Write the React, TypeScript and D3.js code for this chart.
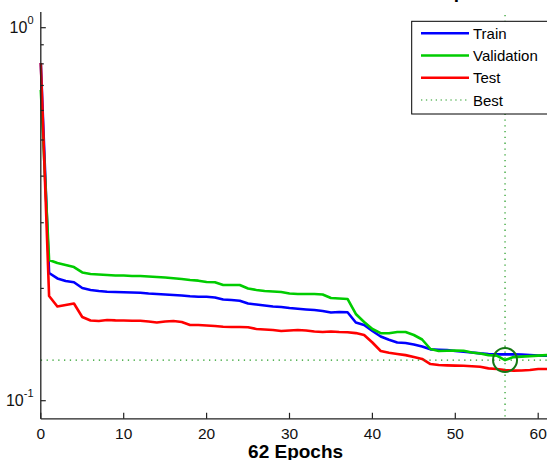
import React from 'react';
import * as d3 from 'd3';

// performance (mse) per epoch
const epochs = d3.range(0, 63);
const train = [0.804, 0.2200, 0.2127, 0.2094, 0.2077, 0.2005, 0.1981, 0.1968, 0.1959, 0.1956,
  0.1953, 0.1950, 0.1948, 0.1938, 0.1932, 0.1926, 0.1920, 0.1914, 0.1905, 0.1900,
  0.1900, 0.1891, 0.1868, 0.1862, 0.1854, 0.1822, 0.1811, 0.1800, 0.1788, 0.1783,
  0.1772, 0.1764, 0.1756, 0.1750, 0.1739, 0.1723, 0.1729, 0.1726, 0.1621, 0.1596,
  0.1538, 0.1486, 0.1457, 0.1432, 0.1428, 0.1415, 0.1397, 0.1373, 0.1370, 0.1368,
  0.1359, 0.1353, 0.1346, 0.1339, 0.1334, 0.1331, 0.1331, 0.1331, 0.1330, 0.1325,
  0.1321, 0.1321, 0.1321];
const validation = [0.681, 0.2384, 0.2339, 0.2311, 0.2282, 0.2207, 0.2186, 0.2180, 0.2173, 0.2167,
  0.2167, 0.2160, 0.2160, 0.2153, 0.2146, 0.2140, 0.2130, 0.2120, 0.2107, 0.2098,
  0.2081, 0.2077, 0.2043, 0.2043, 0.2043, 0.1999, 0.1981, 0.1968, 0.1962, 0.1956,
  0.1938, 0.1932, 0.1932, 0.1932, 0.1926, 0.1885, 0.1879, 0.1874, 0.1708, 0.1626,
  0.1557, 0.1518, 0.1516, 0.1528, 0.1528, 0.1500, 0.1459, 0.1376, 0.1359, 0.1361,
  0.1363, 0.1361, 0.1346, 0.1338, 0.1325, 0.1321, 0.1285, 0.1309, 0.1313, 0.1317,
  0.1321, 0.1325, 0.1325];
const test = [0.804, 0.1909, 0.1788, 0.1805, 0.1822, 0.1677, 0.1641, 0.1636, 0.1646, 0.1642,
  0.1641, 0.1638, 0.1638, 0.1630, 0.1621, 0.1630, 0.1636, 0.1626, 0.1596, 0.1596,
  0.1591, 0.1586, 0.1579, 0.1576, 0.1576, 0.1573, 0.1557, 0.1552, 0.1547, 0.1538,
  0.1543, 0.1547, 0.1543, 0.1533, 0.1528, 0.1533, 0.1528, 0.1526, 0.1518, 0.1500,
  0.1432, 0.1359, 0.1344, 0.1334, 0.1325, 0.1309, 0.1294, 0.1254, 0.1246, 0.1244,
  0.1242, 0.1241, 0.1237, 0.1233, 0.1221, 0.1216, 0.1209, 0.1204, 0.1205, 0.1209,
  0.1216, 0.1216, 0.1216];

const bestEpoch = 56;
const bestPerf = 0.12853;
const xTicks = [0, 10, 20, 30, 40, 50, 60];
const yMajor = [{ v: 1, exp: '0' }, { v: 0.1, exp: '-1' }];
const yMinor = [0.2, 0.3, 0.4, 0.5, 0.6, 0.7, 0.8, 0.9];
const seriesNames = ['Train', 'Validation', 'Test'];
const seriesColors = ['#0000ff', '#00cc00', '#ff0000'];

const W = 547, H = 460;
const font = 'Arial, "Liberation Sans", Helvetica, sans-serif';

const App = () => {
  const x = d3.scaleLinear().domain([0, 60]).range([40.8, 538.2]);
  const y = d3.scaleLog().domain([0.1, 1]).range([400.7, 27.7]);
  const axisTop = 12;
  const axisBottom = 418.8;
  const line = d3.line<number>().x((d, i) => x(epochs[i])).y(d => y(d));
  const series = [train, validation, test];
  const bestGreen = '#1f9a1f';

  return (
    <svg width={W} height={H} style={{ position: 'absolute', left: 0, top: 0, background: '#fff' }}
      fontFamily={font}>
      <rect width={W} height={H} fill="#fff" />
      {/* title, almost fully cropped away in the picture */}
      <text x={525.5} y={-2} textAnchor="end" fontSize={19} fontWeight="bold" fill="#000">
        Best Validation Performance is {bestPerf} at epoch {bestEpoch}
      </text>

      {series.map((s, i) => (
        <path key={seriesNames[i]} d={line(s) || ''} fill="none" stroke={seriesColors[i]}
          strokeWidth={2.6} strokeLinejoin="round" />
      ))}

      {/* best lines */}
      <line x1={x(bestEpoch)} x2={x(bestEpoch)} y1={axisTop + 3} y2={axisBottom}
        stroke={bestGreen} strokeWidth={1.2} strokeDasharray="1.3 4.5" />
      <line x1={x(0)} x2={W + 20} y1={y(bestPerf)} y2={y(bestPerf)}
        stroke={bestGreen} strokeWidth={1.2} strokeDasharray="1.3 4.5" />
      <circle cx={x(bestEpoch)} cy={y(bestPerf)} r={12} fill="none" stroke="#147814" strokeWidth={2} />

      {/* axes */}
      <line x1={x(0)} x2={x(0)} y1={axisTop} y2={axisBottom} stroke="#222" strokeWidth={1.3} />
      <line x1={x(0)} x2={W + 20} y1={axisBottom} y2={axisBottom} stroke="#222" strokeWidth={1.3} />
      {xTicks.map(t => (
        <g key={t}>
          <line x1={x(t)} x2={x(t)} y1={axisBottom} y2={axisBottom - 6} stroke="#222" strokeWidth={1.2} />
          <text x={x(t)} y={438.5} textAnchor="middle" fontSize={15.5} fill="#111">{t}</text>
        </g>
      ))}
      {yMajor.map(t => (
        <g key={t.v}>
          <line x1={x(0)} x2={x(0) + 5} y1={y(t.v)} y2={y(t.v)} stroke="#222" strokeWidth={1.2} />
          <text x={33.5} y={y(t.v) + 5.2} textAnchor="end" fontSize={16} fill="#111">
            10<tspan fontSize={11} dy={-8.5}>{t.exp}</tspan>
          </text>
        </g>
      ))}
      {yMinor.map(t => (
        <line key={t} x1={x(0)} x2={x(0) + 3} y1={y(t)} y2={y(t)} stroke="#222" strokeWidth={1.2} />
      ))}
      <text x={295.6} y={458} textAnchor="middle" fontSize={19} fontWeight="bold" fill="#000">
        62 Epochs
      </text>

      {/* legend */}
      <rect x={411.7} y={21.3} width={160} height={92.7} fill="#fff" stroke="#000" strokeWidth={1} />
      {seriesNames.map((n, i) => {
        const ly = 33.3 + i * 22.2;
        return (
          <g key={n}>
            <line x1={421} x2={469} y1={ly} y2={ly} stroke={seriesColors[i]} strokeWidth={2.6} />
            <text x={473} y={ly + 5.5} fontSize={15} fill="#000">{n}</text>
          </g>
        );
      })}
      <line x1={421} x2={469} y1={100} y2={100} stroke={bestGreen} strokeWidth={1.2} strokeDasharray="1.3 3.6" />
      <text x={473} y={105.5} fontSize={15} fill="#000">Best</text>
    </svg>
  );
};

export default App;
